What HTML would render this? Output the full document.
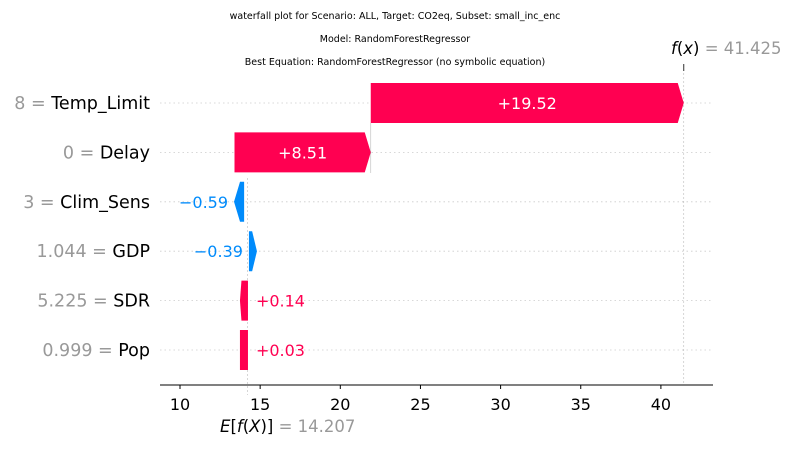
<!DOCTYPE html>
<html><head><meta charset="utf-8"><style>
body{margin:0;background:#fff;font-family:"Liberation Sans","DejaVu Sans",sans-serif}
svg text{font-family:"DejaVu Sans","Liberation Sans",sans-serif}
</style></head><body>
<svg id="c" width="790" height="446">
<g font-size="9.5" text-anchor="middle" fill="#000">
<text x="395" y="19">waterfall plot for Scenario: ALL, Target: CO2eq, Subset: small_inc_enc</text>
<text x="395" y="42">Model: RandomForestRegressor</text>
<text x="395" y="65">Best Equation: RandomForestRegressor (no symbolic equation)</text>
</g>
</svg>
<script>
const features=["Temp_Limit","Delay","Clim_Sens","GDP","SDR","Pop"];
const featVals=["8","0","3","1.044","5.225","0.999"];
const labels=["+19.52","+8.51","\u22120.59","\u22120.39","+0.14","+0.03"];
const starts=[21.9,13.4,14.0,14.3,14.24,13.74];
const ends=[41.425,21.9,13.37,14.8,13.74,14.24];
const positive=[true,true,false,false,true,true];
const ticks=[10,15,20,25,30,35,40];
const baseValue=14.207, fx=41.425;
const NS="http://www.w3.org/2000/svg",svg=document.getElementById('c');
const X=v=>180+(v-10)*16.03;
const Y=i=>103+i*49.4;
function mk(t,a,p){const e=document.createElementNS(NS,t);for(const k in a)e.setAttribute(k,a[k]);(p||svg).appendChild(e);return e;}
features.forEach((f,i)=>{const l=mk('line',{x1:160,x2:712,y1:Y(i),y2:Y(i),stroke:'#ccc','stroke-dasharray':'1.5,3','stroke-width':0.8});

});
let l1=mk('line',{x1:X(baseValue),x2:X(baseValue),y1:178,y2:395,stroke:'#bbb','stroke-dasharray':'2,2','stroke-width':0.6});


let l2=mk('line',{x1:X(fx),x2:X(fx),y1:65,y2:385,stroke:'#bbb','stroke-dasharray':'2,2','stroke-width':0.6});


mk('line',{x1:X(fx),x2:X(fx),y1:64,y2:71,stroke:'#333','stroke-width':1});
mk('line',{x1:X(21.9),x2:X(21.9),y1:123,y2:173,stroke:'#bbb','stroke-width':0.6});
features.forEach((f,i)=>{
 const a=X(starts[i]),b=X(ends[i]),y=Y(i),h=20,col=positive[i]?'#ff0051':'#008bfb';
 const dir=b>a?1:-1,len=Math.abs(b-a),hw=Math.min(6,len*0.6);
 const neck=b-dir*hw;
 let pts;
 if(i===5) pts=[[a,y-h],[b,y-h],[b,y+h],[a,y+h]];
 else if(i===4) pts=[[a,y-h],[b+1.5,y-h],[b,y],[b+1.5,y+h],[a,y+h]];
 else pts=[[a,y-h],[neck,y-h],[b,y],[neck,y+h],[a,y+h]];
 const p=mk('polygon',{points:pts.map(q=>q.join(',')).join(' '),fill:col});
 
 
 const t=mk('text',{y:y+6,'font-size':16});
 t.textContent=labels[i];
 if(len>60){t.setAttribute('x',(a+b)/2);t.setAttribute('text-anchor','middle');t.setAttribute('fill','#fff');}
 else{const left=Math.min(a,b),right=Math.max(a,b);
  if(positive[i]){t.setAttribute('x',right+8);t.setAttribute('fill','#ff0051');}
  else{t.setAttribute('x',left-6);t.setAttribute('text-anchor','end');t.setAttribute('fill','#008bfb');}}
 
 
 const fl=mk('text',{x:150,y:y+6,'font-size':17.5,'text-anchor':'end'});
 fl.innerHTML='<tspan fill="#999">'+featVals[i]+' = </tspan><tspan fill="#000">'+f+'</tspan>';
 
 
});
let ax=mk('line',{x1:160,x2:713,y1:385,y2:385,stroke:'#000','stroke-width':1});


ticks.forEach(v=>{mk('line',{x1:X(v),x2:X(v),y1:385,y2:389,stroke:'#000'});
 const t=mk('text',{x:X(v),y:410,'font-size':16,'text-anchor':'middle'});t.textContent=v;
 
 });
const e=mk('text',{x:220,y:432,'font-size':16.5});
e.innerHTML='<tspan font-style="italic">E</tspan>[<tspan font-style="italic">f</tspan>(<tspan font-style="italic">X</tspan>)] <tspan fill="#999">= '+baseValue.toFixed(3)+'</tspan>';


const f2=mk('text',{x:671,y:54,'font-size':16.5});
f2.innerHTML='<tspan font-style="italic">f</tspan>(<tspan font-style="italic">x</tspan>) <tspan fill="#999">= '+fx.toFixed(3)+'</tspan>';


</script>
</body></html>
